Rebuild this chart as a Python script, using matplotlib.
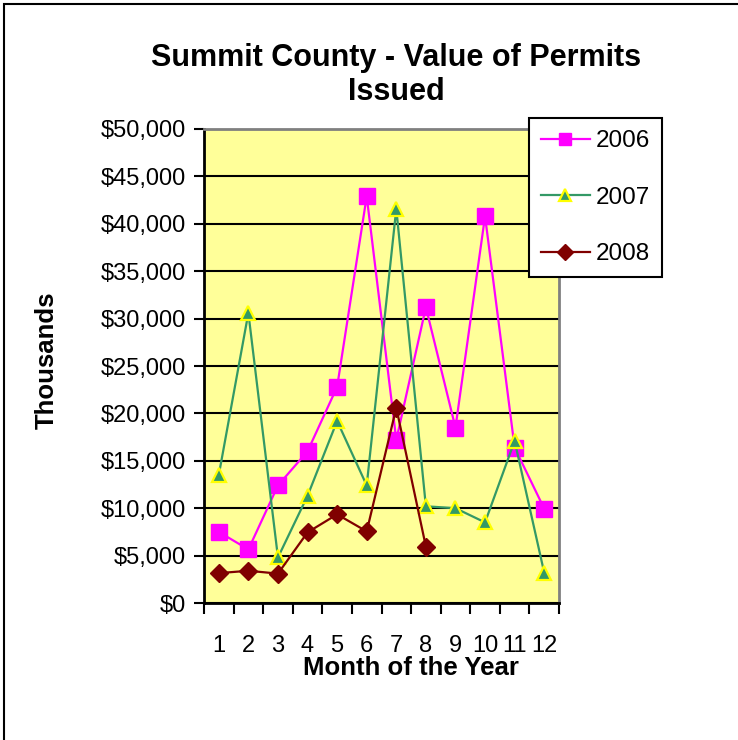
import matplotlib
matplotlib.use("Agg")
import matplotlib.pyplot as plt
from matplotlib.patches import Rectangle
from matplotlib.ticker import FuncFormatter, FixedLocator

plt.rcParams["font.family"] = ["Liberation Sans", "DejaVu Sans"]

# Value of permits issued (thousands of $), by month
months = list(range(1, 13))
y2006 = [7500, 5650, 12400, 16000, 22800, 42900, 17200, 31200, 18500, 40800, 16400, 9950]
y2007 = [13500, 30600, 4800, 11300, 19200, 12400, 41600, 10200, 10000, 8500, 17100, 3200]
months_2008 = list(range(1, 9))
y2008 = [3150, 3400, 3100, 7450, 9350, 7550, 20600, 5950]

fig = plt.figure(figsize=(7.38, 7.40), dpi=100)

# outer chart frame (right/bottom run off the image)
fig.patches.append(Rectangle((4 / 738, -0.1), 1.2, 1 - 4 / 740 + 0.1,
                             transform=fig.transFigure, fill=False,
                             edgecolor="black", linewidth=1.5))

ax = fig.add_axes([204 / 738, 1 - 603 / 740, 355 / 738, 474 / 740])
ax.set_facecolor("#FFFF99")

ax.plot(months, y2006, color="#FF00FF", lw=1.6, marker="s", ms=11,
        mfc="#FF00FF", mec="#FF00FF", label="2006", zorder=3)
ax.plot(months, y2007, color="#339966", lw=1.6, marker="^", ms=10.5,
        mfc="#339966", mec="#FFFF00", mew=1.6, label="2007", zorder=4)
ax.plot(months_2008, y2008, color="#800000", lw=1.6, marker="D", ms=9,
        mfc="#800000", mec="#800000", label="2008", zorder=5)

ax.set_xlim(0.5, 12.5)
ax.set_ylim(0, 50000)
ax.set_yticks(range(0, 50001, 5000))
ax.yaxis.set_major_formatter(FuncFormatter(lambda v, p: f"${int(v):,}"))
ax.grid(axis="y", color="black", lw=1.5, zorder=1)
ax.set_axisbelow(True)

ax.set_xticks(months)
ax.set_xticklabels([str(m) for m in months])
ax.xaxis.set_minor_locator(FixedLocator([m + 0.5 for m in range(0, 13)]))
ax.tick_params(axis="x", which="major", length=0, pad=23, labelsize=17)
ax.tick_params(axis="x", which="minor", length=8, width=1.5, direction="out")
ax.tick_params(axis="y", length=7, width=1.5, direction="out", labelsize=17, pad=6)

for s in ["left", "bottom"]:
    ax.spines[s].set_color("black")
    ax.spines[s].set_linewidth(2)
for s in ["top", "right"]:
    ax.spines[s].set_color("#808080")
    ax.spines[s].set_linewidth(2)

fig.text(396 / 738, 1 - 75 / 740, "Summit County - Value of Permits\nIssued",
         ha="center", va="center", fontsize=22, fontweight="bold", linespacing=1.15)
fig.text(47 / 738, 1 - 360 / 740, "Thousands", rotation=90, ha="center",
         va="center", fontsize=18.5, fontweight="bold")
fig.text(411 / 738, 1 - 668 / 740, "Month of the Year", ha="center",
         va="center", fontsize=18.5, fontweight="bold")

leg = ax.legend(loc="upper left", bbox_to_anchor=(529 / 738, 1 - 118 / 740),
                bbox_transform=fig.transFigure, borderaxespad=0, fontsize=17.5,
                labelspacing=1.42, handlelength=2.0, handletextpad=0.25,
                borderpad=0.5, fancybox=False, framealpha=1, markerscale=0.85)
leg.get_frame().set_edgecolor("black")
leg.get_frame().set_linewidth(1.5)
leg.set_zorder(10)

fig.savefig("out.png", dpi=100)
